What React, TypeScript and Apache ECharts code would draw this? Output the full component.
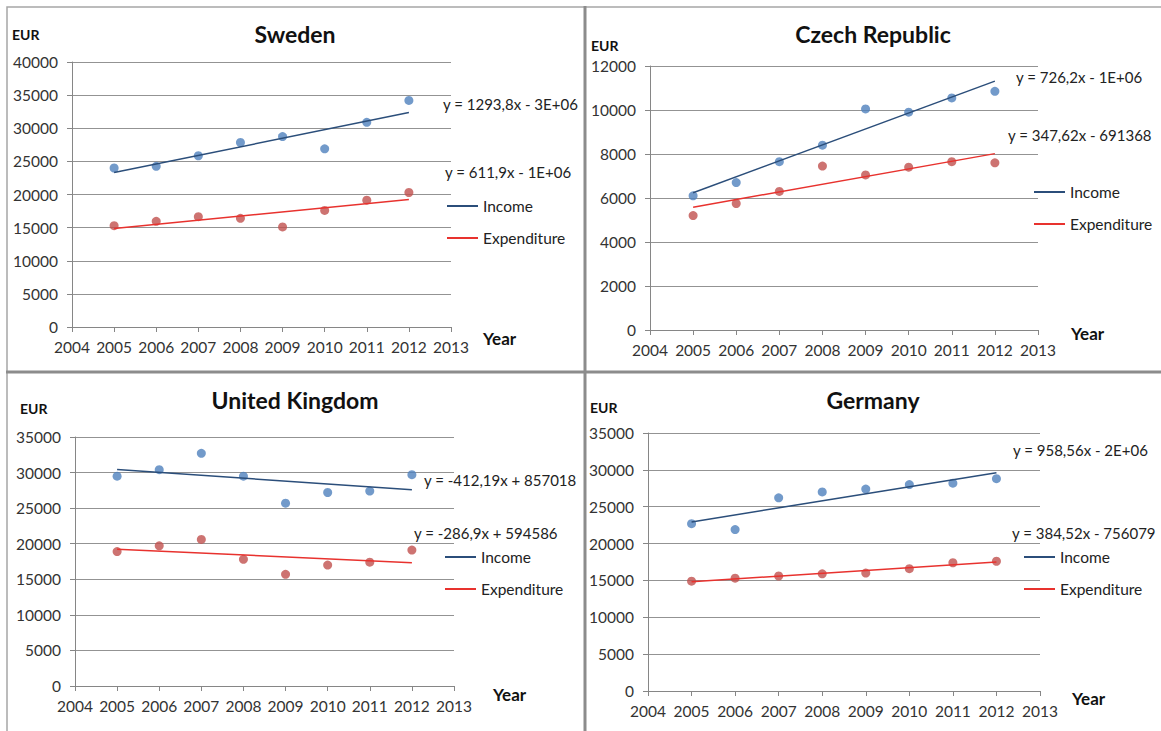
import React, { useEffect, useRef } from "react";
import * as echarts from "echarts";

const years = [2005, 2006, 2007, 2008, 2009, 2010, 2011, 2012];

const swedenIncome = [24000, 24250, 25850, 27850, 28750, 26900, 30900, 34200];
const swedenExpenditure = [15300, 15950, 16650, 16400, 15100, 17600, 19150, 20300];
const czechIncome = [6100, 6700, 7650, 8400, 10050, 9900, 10550, 10850];
const czechExpenditure = [5200, 5750, 6300, 7450, 7050, 7400, 7650, 7600];
const ukIncome = [29500, 30400, 32700, 29500, 25700, 27200, 27400, 29700];
const ukExpenditure = [18900, 19700, 20600, 17800, 15700, 17000, 17400, 19100];
const germanyIncome = [22700, 21900, 26200, 27000, 27400, 28000, 28200, 28800];
const germanyExpenditure = [14900, 15300, 15600, 15900, 16000, 16600, 17400, 17600];

const countries = ["Sweden", "Czech Republic", "United Kingdom", "Germany"];
const incomeEquations = ["y = 1293,8x - 3E+06", "y = 726,2x - 1E+06", "y = -412,19x + 857018", "y = 958,56x - 2E+06"];
const expenditureEquations = ["y = 611,9x - 1E+06", "y = 347,62x - 691368", "y = -286,9x + 594586", "y = 384,52x - 756079"];
const yMaxes = [40000, 12000, 35000, 35000];
const yIntervals = [5000, 2000, 5000, 5000];
const incomeData = [swedenIncome, czechIncome, ukIncome, germanyIncome];
const expenditureData = [swedenExpenditure, czechExpenditure, ukExpenditure, germanyExpenditure];

// layout (pixels)
const grids = [
  { left: 72, top: 62, width: 379, height: 265 },
  { left: 650, top: 66, width: 388, height: 264 },
  { left: 75, top: 437, width: 379, height: 249 },
  { left: 648, top: 433, width: 392, height: 258 },
];
const titlePos = [
  { x: 295, y: 36 },
  { x: 873, y: 36 },
  { x: 295, y: 402 },
  { x: 873, y: 402 },
];
const eurPos = [
  { x: 12, y: 34 },
  { x: 591, y: 45 },
  { x: 20, y: 408 },
  { x: 590, y: 407 },
];
const yearPos = [
  { x: 483, y: 338 },
  { x: 1071, y: 333 },
  { x: 493, y: 694 },
  { x: 1072, y: 698 },
];
const eq1Pos = [
  { x: 443, y: 104 },
  { x: 1016, y: 77 },
  { x: 424, y: 480 },
  { x: 1013, y: 450 },
];
const eq2Pos = [
  { x: 445, y: 172 },
  { x: 1008, y: 135 },
  { x: 414, y: 533 },
  { x: 1012, y: 533 },
];
const legendPos = [
  { x: 447, y: 198 },
  { x: 1034, y: 184 },
  { x: 445, y: 549 },
  { x: 1024, y: 549 },
];

const FONT = "Lato, 'Open Sans', sans-serif";
const INCOME_DOT = "#4f81bd";
const EXP_DOT = "#c0504d";
const INCOME_TREND = "#2b4e7a";
const EXP_TREND = "#e8322e";

function trend(xs: number[], ys: number[]): number[][] {
  const n = xs.length;
  const mx = xs.reduce((a, b) => a + b, 0) / n;
  const my = ys.reduce((a, b) => a + b, 0) / n;
  let sxy = 0;
  let sxx = 0;
  for (let i = 0; i < n; i++) {
    sxy += (xs[i] - mx) * (ys[i] - my);
    sxx += (xs[i] - mx) * (xs[i] - mx);
  }
  const b = sxy / sxx;
  const a = my - b * mx;
  const x0 = xs[0];
  const x1 = xs[n - 1];
  return [
    [x0, a + b * x0],
    [x1, a + b * x1],
  ];
}

export default function App() {
  const ref = useRef<HTMLDivElement>(null);
  useEffect(() => {
    if (!ref.current) return;
    const chart = echarts.init(ref.current, undefined, { renderer: "svg" });

    const grid: any[] = [];
    const xAxis: any[] = [];
    const yAxis: any[] = [];
    const series: any[] = [];
    const title: any[] = [];
    const legend: any[] = [];
    const graphic: any[] = [];

    // panel frames
    graphic.push({ type: "rect", shape: { x: 7, y: 7, width: 1160, height: 730 }, style: { fill: "none", stroke: "#a6a6a6", lineWidth: 1.5 }, silent: true });
    graphic.push({ type: "line", shape: { x1: 585, y1: 6, x2: 585, y2: 731 }, style: { stroke: "#8c8c8c", lineWidth: 3 }, silent: true });
    graphic.push({ type: "line", shape: { x1: 6, y1: 372, x2: 1161, y2: 372 }, style: { stroke: "#8c8c8c", lineWidth: 3 }, silent: true });

    countries.forEach((name, i) => {
      const g = grids[i];
      grid.push({ left: g.left, top: g.top, width: g.width, height: g.height, containLabel: false });
      xAxis.push({
        type: "value",
        gridIndex: i,
        min: 2004,
        max: 2013,
        interval: 1,
        axisLine: { show: true, lineStyle: { color: "#868686", width: 1 } },
        axisTick: { show: true, length: 5, lineStyle: { color: "#868686" } },
        splitLine: { show: false },
        axisLabel: { color: "#333", fontFamily: FONT, fontSize: 15.5, margin: 12, formatter: (v: number) => String(v) },
      });
      yAxis.push({
        type: "value",
        gridIndex: i,
        min: 0,
        max: yMaxes[i],
        interval: yIntervals[i],
        axisLine: { show: true, lineStyle: { color: "#868686", width: 1 } },
        axisTick: { show: true, length: 5, lineStyle: { color: "#868686" } },
        splitLine: { show: true, lineStyle: { color: "#939393", width: 1 } },
        axisLabel: { color: "#333", fontFamily: FONT, fontSize: 15.5, margin: 14, formatter: (v: number) => String(v) },
      });

      const inc = years.map((y, k) => [y, incomeData[i][k]]);
      const exp = years.map((y, k) => [y, expenditureData[i][k]]);
      series.push({
        type: "scatter",
        name: "Income data",
        xAxisIndex: i,
        yAxisIndex: i,
        data: inc,
        symbolSize: 9,
        itemStyle: { color: INCOME_DOT },
        z: 2,
      });
      series.push({
        type: "scatter",
        name: "Expenditure data",
        xAxisIndex: i,
        yAxisIndex: i,
        data: exp,
        symbolSize: 9,
        itemStyle: { color: EXP_DOT },
        z: 2,
      });
      series.push({
        type: "line",
        name: "Income",
        xAxisIndex: i,
        yAxisIndex: i,
        data: trend(years, incomeData[i]),
        showSymbol: false,
        symbol: "none",
        lineStyle: { color: INCOME_TREND, width: 1.5 },
        itemStyle: { color: INCOME_TREND },
        z: 3,
      });
      series.push({
        type: "line",
        name: "Expenditure",
        xAxisIndex: i,
        yAxisIndex: i,
        data: trend(years, expenditureData[i]),
        showSymbol: false,
        symbol: "none",
        lineStyle: { color: EXP_TREND, width: 1.5 },
        itemStyle: { color: EXP_TREND },
        z: 3,
      });

      title.push({
        text: name,
        left: titlePos[i].x,
        top: titlePos[i].y - 14,
        textAlign: "center",
        textStyle: { fontFamily: FONT, fontSize: 23, fontWeight: "bold", color: "#111" },
        padding: 0,
      });

      legend.push({
        data: ["Income", "Expenditure"],
        orient: "vertical",
        left: legendPos[i].x,
        top: legendPos[i].y,
        itemWidth: 31,
        itemHeight: 2,
        itemGap: 16,
        icon: "rect",
        padding: 0,
        selectedMode: false,
        textStyle: { fontFamily: FONT, fontSize: 15.5, color: "#222", padding: [0, 0, 0, 0] },
      });

      graphic.push({
        type: "text",
        x: eurPos[i].x,
        y: eurPos[i].y,
        style: { text: "EUR", font: `bold 14px ${FONT}`, fill: "#111", verticalAlign: "middle" },
      });
      graphic.push({
        type: "text",
        x: yearPos[i].x,
        y: yearPos[i].y,
        style: { text: "Year", font: `bold 17px ${FONT}`, fill: "#111", verticalAlign: "middle" },
      });
      graphic.push({
        type: "text",
        x: eq1Pos[i].x,
        y: eq1Pos[i].y,
        style: { text: incomeEquations[i], font: `15px ${FONT}`, fill: "#222", verticalAlign: "middle" },
      });
      graphic.push({
        type: "text",
        x: eq2Pos[i].x,
        y: eq2Pos[i].y,
        style: { text: expenditureEquations[i], font: `15px ${FONT}`, fill: "#222", verticalAlign: "middle" },
      });
    });

    chart.setOption({
      animation: false,
      backgroundColor: "#ffffff",
      grid,
      xAxis,
      yAxis,
      series,
      title,
      legend,
      graphic,
    });
    return () => chart.dispose();
  }, []);

  return (
    <div
      ref={ref}
      style={{ position: "fixed", left: 0, top: 0, width: 1161, height: 731 }}
    />
  );
}
